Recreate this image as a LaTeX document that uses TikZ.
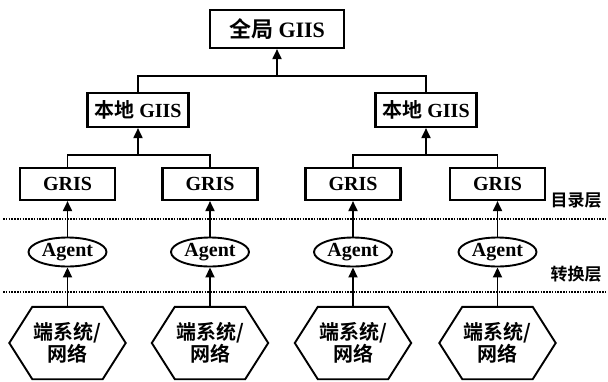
\documentclass[tikz,border=0pt]{standalone}
\usepackage{fontspec}
\setmainfont{Liberation Serif}
\newfontfamily\cjk{Noto Sans CJK SC}[BoldFont={Noto Sans CJK SC Bold}]
\usetikzlibrary{arrows.meta,calc,shapes.geometric}
\begin{document}
\begin{tikzpicture}[x=1pt,y=-1pt,
  txt/.style={font=\bfseries\fontsize{20pt}{23pt}\selectfont},
  box/.style={txt,draw,line width=2.1pt,minimum height=32pt,inner sep=0pt},
  agent/.style={txt,draw,ellipse,line width=1.9pt,minimum width=78pt,minimum height=29pt,inner sep=0pt},
  hexa/.style={txt,minimum width=70pt,minimum height=72pt,inner sep=0pt,align=center},
  lbl/.style={font=\bfseries\fontsize{17pt}{20pt}\selectfont\cjk},
  conn/.style={line width=1.8pt},
  arr/.style={conn,-{Triangle[length=10pt,width=9pt]}},
  sep/.style={line width=1.8pt,dash pattern=on 1.6pt off 1.2pt}
]
\useasboundingbox (0,0) rectangle (608,381);

% top
\node[box,minimum width=134pt,minimum height=38pt,font=\bfseries\fontsize{22pt}{24pt}\selectfont] (top) at (277,29) {{\cjk 全局} GIIS};
% local
\node[box,minimum width=101pt,minimum height=34pt] (l1) at (138,110) {{\cjk 本地} GIIS};
\node[box,minimum width=101pt,minimum height=34pt] (l2) at (426,110) {{\cjk 本地} GIIS};
% GRIS, agents, end systems
\foreach \i/\x in {1/67.5,2/210,3/353,4/497.5}{
  \node[box,minimum width=95pt] (g\i) at (\x,184) {GRIS};
  \node[agent] (a\i) at (\x,252) {Agent};
  \node[hexa] (h\i) at (\x,343) {{\cjk 端系统/}\\[-1pt]{\cjk 网络}};
  \draw[line width=1.9pt,line join=miter] (h\i.north west) -- (h\i.north east) -- ($(h\i.east)+(23,0)$) -- (h\i.south east) -- (h\i.south west) -- ($(h\i.west)+(-23,0)$) -- cycle;
}

% separators
\coordinate (s1l) at (3,219); \coordinate (s1r) at (606,219);
\coordinate (s2l) at (3,292); \coordinate (s2r) at (606,292);
\draw[sep] (s1l) -- (s1r);
\draw[sep] (s2l) -- (s2r);

% labels
\node[lbl] (t1) at (576,200) {目录层};
\node[lbl] (t2) at (576,274) {转换层};

% top bus
\coordinate (b0) at (top.south |- 0,76);
\draw[conn] (l1.north) |- (b0) -| (l2.north);
\draw[arr] (b0) -- (top.south);
% second-level buses
\coordinate (b1) at (l1.south |- 0,155);
\coordinate (b2) at (l2.south |- 0,155);
\draw[conn] (g1.north) |- (b1) -| (g2.north);
\draw[conn] (g3.north) |- (b2) -| (g4.north);
\draw[arr] (b1) -- (l1.south);
\draw[arr] (b2) -- (l2.south);
% vertical arrows
\foreach \i in {1,2,3,4}{
  \draw[arr] (a\i.north) -- (g\i.south);
  \draw[arr] (h\i.north) -- (a\i.south);
}
\end{tikzpicture}
\end{document}
